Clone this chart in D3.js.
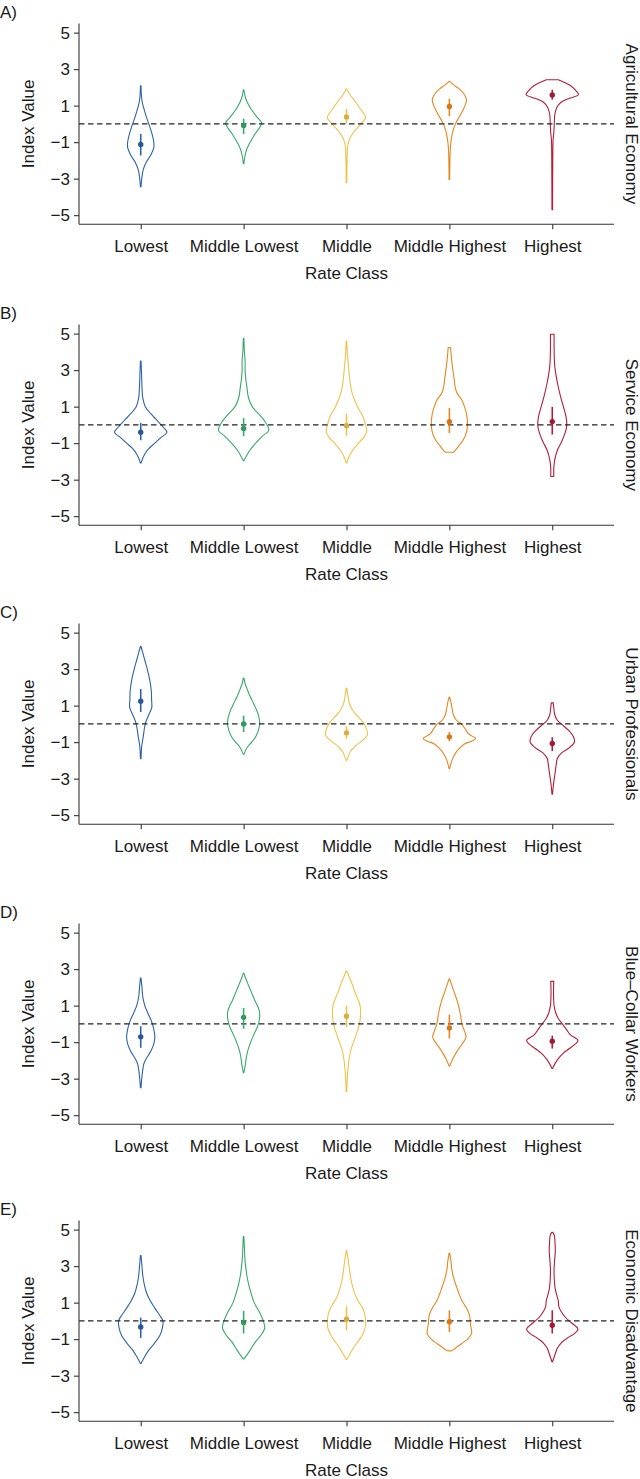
<!DOCTYPE html>
<html><head><meta charset="utf-8">
<script src="https://cdn.jsdelivr.net/npm/d3@7"></script>
<style>
html,body{margin:0;padding:0;background:#fff;}
text{font-family:"Liberation Sans",Arial,Helvetica,sans-serif;fill:#1a1a1a;}
</style></head>
<body>
<svg id="chart" width="640" height="1479"></svg>
<script>
// ---------- data ----------
const categories = ["Lowest","Middle Lowest","Middle","Middle Highest","Highest"];
const colors = ["#2d62a8","#3aa86b","#f0c24a","#e8861e","#b21d3b"];
const panelLabels = ["A)","B)","C)","D)","E)"];
const facetNames = ["Agricultural Economy","Service Economy","Urban Professionals","Blue\u2013Collar Workers","Economic Disadvantage"];
const yTicks = [-5,-3,-1,1,3,5];
const xTitle = "Rate Class";
const yTitle = "Index Value";

// violin density profiles: [index value, relative density] per rate class
const agriculturalDensity = [
  [[2.09,0.3],[1.6,0.6],[1.2,1.5],[0.9,2.8],[0.4,5.5],[0,8],[-0.5,11],[-1.0,13],[-1.3,13],[-1.7,10],[-2.1,5.5],[-2.5,2.5],[-3.0,1],[-3.44,0.3]],
  [[1.87,0.3],[1.5,1.5],[1.2,3.5],[0.8,7.5],[0.4,13],[0.1,17.5],[0,17.7],[-0.2,16],[-0.5,12],[-1.0,6.5],[-1.4,3],[-1.8,1.2],[-2.18,0.3]],
  [[1.91,0.3],[1.6,3.5],[1.2,9],[0.8,14],[0.5,18],[0.33,19],[0.1,16],[-0.2,11],[-0.5,6.5],[-0.9,2.5],[-1.3,1],[-2.0,0.6],[-3.22,0.3]],
  [[2.33,0.3],[2.15,4],[1.9,10],[1.6,15],[1.3,17],[1.0,15.5],[0.7,13],[0.4,10],[0,6],[-0.4,3.5],[-1.0,1.5],[-1.5,0.8],[-3.04,0.3]],
  [[2.42,6],[2.3,11],[2.1,18],[1.85,23],[1.6,26],[1.4,17],[1.2,9],[0.9,4.5],[0.5,2.5],[0,2],[-0.5,1.5],[-0.9,0.8],[-2.0,0.5],[-4.7,0.3]]
];
const serviceDensity = [
  [[3.5,0.3],[2.8,0.8],[2.0,1.3],[1.5,2],[1.0,4.5],[0.5,12],[0.2,17],[-0.1,22],[-0.4,26],[-0.7,20],[-1.0,14],[-1.3,8],[-1.55,4.5],[-1.8,2.2],[-2.09,0.3]],
  [[4.73,0.3],[4.0,0.8],[3.5,1.5],[3.0,1.5],[2.5,2.2],[2.1,3.2],[1.5,4.8],[1.0,8.5],[0.6,15],[0.2,21],[-0.3,25],[-0.6,19],[-1.0,12],[-1.4,6],[-1.7,2.8],[-1.96,0.3]],
  [[4.6,0.3],[3.8,1],[3.2,2],[2.6,3],[2.0,4.5],[1.5,7],[1.0,11],[0.5,16],[0,19],[-0.4,20],[-0.7,17],[-1.0,12],[-1.4,6],[-1.75,2.5],[-2.09,0.3]],
  [[4.24,1.2],[3.7,2],[3.2,3],[2.6,4.5],[2.0,6],[1.7,8],[1.4,12],[1.0,15],[0.6,17],[0.1,18],[-0.4,17],[-0.8,14],[-1.1,10],[-1.35,6.5],[-1.5,4]],
  [[4.97,1.8],[4.3,1.8],[3.7,2],[3.2,2.5],[2.7,3.8],[2.2,5.5],[1.6,8],[1.0,11],[0.5,13.5],[0,14.5],[-0.4,13],[-0.9,9.5],[-1.4,5],[-1.9,2.5],[-2.3,1.6],[-2.83,1.5]]
];
const urbanDensity = [
  [[4.24,0.3],[3.9,2],[3.5,4],[3.0,6.5],[2.4,9],[1.8,10.5],[1.3,10.8],[0.9,11],[0.5,8],[0.1,5],[-0.3,3.5],[-0.7,2.5],[-1.2,1],[-1.91,0.3]],
  [[2.51,0.3],[2.2,1.5],[1.9,3.5],[1.5,6.5],[1.1,10],[0.6,14],[0.1,16],[-0.3,15],[-0.7,12],[-1.0,8],[-1.25,4],[-1.45,2],[-1.67,0.3]],
  [[1.96,0.3],[1.6,1.2],[1.2,2.5],[0.9,4.5],[0.6,8],[0.3,13],[0,17.5],[-0.3,20],[-0.6,20.8],[-0.9,16],[-1.2,9],[-1.5,4],[-1.75,2],[-2.0,0.3]],
  [[1.47,0.3],[1.2,1.5],[0.9,2.5],[0.5,4],[0.2,7],[0,12],[-0.3,16],[-0.55,19],[-0.8,26],[-0.95,22],[-1.1,15],[-1.4,9],[-1.7,5],[-2.0,2.5],[-2.45,0.3]],
  [[1.15,1],[0.9,1.5],[0.5,2.5],[0.2,5],[-0.1,11],[-0.4,17],[-0.7,21],[-1.0,22],[-1.3,17],[-1.6,9],[-1.9,5],[-2.2,4],[-2.6,3],[-3.0,2],[-3.4,1],[-3.85,0.3]]
];
const blueCollarDensity = [
  [[2.51,0.3],[2.0,1.2],[1.5,2],[1.0,4],[0.6,7],[0.1,11],[-0.3,13],[-0.7,14],[-1.1,13],[-1.5,10],[-1.9,5.5],[-2.2,3],[-2.6,1.8],[-3.0,1],[-3.49,0.3]],
  [[2.78,0.3],[2.5,2],[2.1,5],[1.7,8],[1.3,11],[0.9,14.5],[0.6,16],[0.2,15.5],[-0.2,13.5],[-0.6,10],[-1.0,7],[-1.4,4.5],[-1.8,2.8],[-2.2,1.8],[-2.67,0.3]],
  [[2.91,0.3],[2.6,2.5],[2.2,5.5],[1.8,8],[1.4,11],[1.0,13.5],[0.6,14],[0.2,13.5],[-0.2,12],[-0.6,9.5],[-1.0,7],[-1.4,4.5],[-1.8,3],[-2.2,2],[-2.8,1],[-3.71,0.3]],
  [[2.47,0.3],[2.1,2.5],[1.7,5],[1.3,7.5],[0.9,9.5],[0.5,11],[0,12.5],[-0.4,15],[-0.7,16.6],[-1.0,14],[-1.3,10],[-1.6,6.5],[-1.9,3.5],[-2.31,0.3]],
  [[2.33,1.5],[2.0,1.3],[1.5,1.3],[1.0,1.8],[0.6,3.5],[0.3,6],[0,10],[-0.3,14],[-0.6,18],[-0.9,25.5],[-1.1,23],[-1.35,17],[-1.6,11],[-1.9,6],[-2.15,3],[-2.44,0.3]]
];
const disadvantageDensity = [
  [[3.58,0.3],[3.0,1.2],[2.5,2],[2.0,3.5],[1.5,6],[1.1,9.5],[0.7,14],[0.3,19],[0,22],[-0.4,21.5],[-0.8,19],[-1.2,14],[-1.6,8],[-1.95,4],[-2.33,0.3]],
  [[4.62,0.3],[4.0,0.8],[3.5,1.2],[3.0,2],[2.5,3.2],[2.0,5],[1.5,7.5],[1.0,10.5],[0.5,15.5],[0,19.5],[-0.4,21],[-0.8,17],[-1.2,11],[-1.6,6.5],[-1.85,3.5],[-2.09,0.3]],
  [[3.85,0.3],[3.4,1.5],[2.9,2.7],[2.4,4],[2.0,5.5],[1.6,7.5],[1.2,10.5],[0.8,15],[0.4,18],[0,19],[-0.4,18.5],[-0.8,15.5],[-1.2,10.5],[-1.55,6],[-1.85,3],[-2.11,0.3]],
  [[3.71,0.3],[3.3,1.5],[2.8,2.5],[2.3,4.5],[1.9,7],[1.5,9.5],[1.1,12.5],[0.7,17],[0.3,20],[-0.2,21],[-0.7,22],[-1.0,18],[-1.25,12],[-1.45,7],[-1.6,3.5],[-1.64,1.5]],
  [[4.85,0.5],[4.7,2],[4.3,2.7],[3.8,3],[3.3,2.3],[2.8,1.8],[2.3,2],[1.8,2.8],[1.4,4.5],[1.1,6],[0.8,6.5],[0.5,9],[0.2,13],[-0.1,19],[-0.45,25.5],[-0.7,22],[-0.9,16],[-1.2,9],[-1.5,5],[-1.8,3],[-2.24,0.3]]
];

// point estimates and intervals per rate class
const agriculturalMean = [-1.13,-0.09,0.38,0.96,1.58];
const agriculturalLow  = [-1.73,-0.55,0.02,0.42,1.33];
const agriculturalHigh = [-0.55,0.29,0.82,1.38,1.87];
const serviceMean = [-0.4,-0.2,-0.04,0.17,0.18];
const serviceLow  = [-0.84,-0.62,-0.59,-0.44,-0.53];
const serviceHigh = [0.11,0.37,0.6,0.92,0.99];
const urbanMean = [1.24,0.0,-0.49,-0.71,-1.07];
const urbanLow  = [0.65,-0.45,-0.82,-0.95,-1.49];
const urbanHigh = [1.91,0.45,-0.13,-0.44,-0.73];
const blueCollarMean = [-0.71,0.36,0.42,-0.22,-0.95];
const blueCollarLow  = [-1.31,-0.27,-0.18,-0.8,-1.35];
const blueCollarHigh = [-0.13,0.87,1.0,0.51,-0.64];
const disadvantageMean = [-0.33,-0.09,0.09,-0.04,-0.24];
const disadvantageLow  = [-0.93,-0.69,-0.51,-0.6,-0.69];
const disadvantageHigh = [0.18,0.55,0.8,0.58,0.58];

const panels = [
  {dens: agriculturalDensity, mean: agriculturalMean, lo: agriculturalLow, hi: agriculturalHigh},
  {dens: serviceDensity, mean: serviceMean, lo: serviceLow, hi: serviceHigh},
  {dens: urbanDensity, mean: urbanMean, lo: urbanLow, hi: urbanHigh},
  {dens: blueCollarDensity, mean: blueCollarMean, lo: blueCollarLow, hi: blueCollarHigh},
  {dens: disadvantageDensity, mean: disadvantageMean, lo: disadvantageLow, hi: disadvantageHigh}
];

// ---------- layout ----------
const panelOffsets = [0, 301, 600, 900, 1197];
const plotLeft = 79, plotRight = 614, plotTop = 23.5, plotBottom = 224.3;
const fs = 17;

const svg = d3.select("#chart");
const x = d3.scalePoint().domain(categories).range([plotLeft, plotRight]).padding(0.6);
const y = d3.scaleLinear().domain([-5.5, 5.5]).range([plotBottom, plotTop]);
const w = d3.scaleLinear().domain([0, 46]).range([0, 0.45 * x.step()]);

panels.forEach((p, i) => {
  const g = svg.append("g").attr("transform", `translate(0,${panelOffsets[i]})`);

  // violins
  p.dens.forEach((prof, j) => {
    const cx = x(categories[j]);
    const area = d3.area()
      .y(d => y(d[0]))
      .x0(d => cx - w(d[1]))
      .x1(d => cx + w(d[1]))
      .curve(d3.curveCatmullRom.alpha(0.5));
    g.append("path").attr("d", area(prof))
      .attr("fill", "none").attr("stroke", colors[j]).attr("stroke-width", 1.1)
      .attr("stroke-linejoin", "round");
  });

  // reference line
  g.append("line").attr("x1", plotLeft).attr("x2", plotRight)
    .attr("y1", y(0)).attr("y2", y(0))
    .attr("stroke", "#222").attr("stroke-width", 1.2).attr("stroke-dasharray", "5.5,3.5");

  // intervals and points
  categories.forEach((c, j) => {
    const cx = x(c);
    g.append("line").attr("x1", cx).attr("x2", cx)
      .attr("y1", y(p.lo[j])).attr("y2", y(p.hi[j]))
      .attr("stroke", colors[j]).attr("stroke-width", 1.6);
    g.append("circle").attr("cx", cx).attr("cy", y(p.mean[j])).attr("r", 2.7)
      .attr("fill", d3.color(colors[j]).darker(0.3));
  });

  // axes
  const yAxis = d3.axisLeft(y).tickValues(yTicks).tickSize(5).tickPadding(4);
  const ya = g.append("g").attr("transform", `translate(${plotLeft},0)`).call(yAxis);
  ya.select(".domain").attr("d", `M0,${plotTop}V${plotBottom}`).attr("stroke", "#333").attr("stroke-width", 1.1);
  ya.selectAll(".tick line").attr("stroke", "#333").attr("stroke-width", 1.1);
  ya.selectAll(".tick text").attr("font-size", fs).attr("fill", "#1a1a1a")
    .style("font-family", '"Liberation Sans",Arial,sans-serif');

  const xAxis = d3.axisBottom(x).tickSize(5).tickPadding(4);
  const xa = g.append("g").attr("transform", `translate(0,${plotBottom})`).call(xAxis);
  xa.select(".domain").attr("d", `M${plotLeft},0H${plotRight}`).attr("stroke", "#333").attr("stroke-width", 1.1);
  xa.selectAll(".tick line").attr("stroke", "#333").attr("stroke-width", 1.1);
  xa.selectAll(".tick text").attr("font-size", fs).attr("fill", "#1a1a1a").attr("dy", "1.08em")
    .style("font-family", '"Liberation Sans",Arial,sans-serif');

  // titles
  g.append("text").attr("x", (plotLeft + plotRight) / 2).attr("y", 279)
    .attr("text-anchor", "middle").attr("font-size", fs).text(xTitle);
  g.append("text").attr("transform", `translate(34,${(plotTop + plotBottom) / 2}) rotate(-90)`)
    .attr("text-anchor", "middle").attr("font-size", fs).text(yTitle);
  g.append("text").attr("transform", `translate(626,${(plotTop + plotBottom) / 2}) rotate(90)`)
    .attr("text-anchor", "middle").attr("font-size", fs).text(facetNames[i]);
  g.append("text").attr("x", 0).attr("y", 18).attr("font-size", fs).text(panelLabels[i]);
});
</script>
</body></html>
